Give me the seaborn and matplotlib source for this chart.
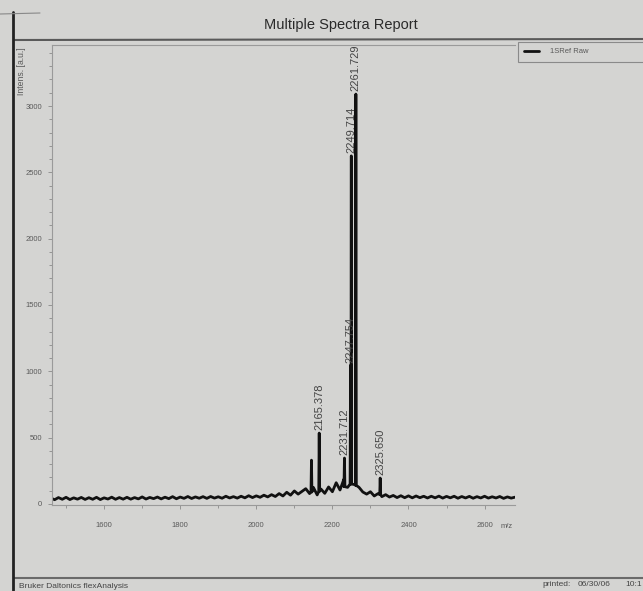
import numpy as np
import pandas as pd
import seaborn as sns
import matplotlib.pyplot as plt
from matplotlib.lines import Line2D
from matplotlib.ticker import MultipleLocator

# baseline trace, one value every 10 Da from 1460 to 2680
base_mz = np.arange(1460, 2690, 10)
base_int = [
    44, 32, 48, 35, 50, 33, 46, 36, 49, 34,
    47, 35, 50, 33, 46, 37, 51, 35, 48, 36,
    50, 36, 48, 38, 53, 37, 49, 40, 52, 38,
    51, 40, 55, 39, 52, 42, 56, 41, 53, 43,
    55, 42, 56, 44, 54, 43, 58, 45, 55, 44,
    58, 46, 62, 48, 61, 50, 66, 53, 70, 56,
    78, 60, 88, 66, 98, 74, 95, 115, 78, 125,
    68, 112, 80, 128, 92, 160, 105, 185, 125, 170,
    145, 125, 90, 74, 92, 60, 78, 55, 70, 52,
    64, 48, 62, 47, 61, 46, 60, 47, 58, 45,
    58, 46, 59, 44, 57, 46, 58, 43, 56, 45,
    57, 43, 55, 45, 58, 44, 54, 45, 56, 42,
    53, 44, 51,
]

# peaks
peak_mz = [2145.0, 2165.378, 2231.712, 2247.754, 2249.714, 2261.729, 2325.650]
peak_int = [330, 534, 346, 1045, 2624, 3090, 195]
peak_foot = [90, 95, 130, 150, 150, 140, 70]
peak_label = [None, "2165.378", "2231.712", "2247.754", "2249.714", "2261.729", "2325.650"]

mz = list(base_mz)
inten = list(base_int)
for m, h, f in zip(peak_mz, peak_int, peak_foot):
    mz += [m - 1.2, m, m + 1.2]
    inten += [f, h, f]
df = pd.DataFrame({"mz": mz, "intens": inten}).sort_values("mz")

bg = "#d4d4d2"
sns.set_theme(style="ticks")
plt.rcParams["font.family"] = ["Liberation Sans", "DejaVu Sans"]

fig = plt.figure(figsize=(6.43, 5.91), dpi=100, facecolor=bg)
ax = fig.add_axes([52 / 643, 1 - 505 / 591, (515 - 52) / 643, (505 - 45) / 591])
ax.set_facecolor(bg)

sns.lineplot(data=df, x="mz", y="intens", estimator=None, sort=True,
             color="#111111", linewidth=2.0, ax=ax, label="1SRef Raw")

for m, h, lab in zip(peak_mz, peak_int, peak_label):
    if lab:
        ax.annotate(lab, (m, h), xytext=(0, 2), textcoords="offset points",
                    rotation=90, ha="center", va="bottom", fontsize=8,
                    color="#444444", annotation_clip=False, clip_on=False)

ax.set_xlim(1463, 2680)
ax.set_ylim(-8, 3460)
ax.xaxis.set_major_locator(MultipleLocator(200))
ax.xaxis.set_minor_locator(MultipleLocator(100))
ax.yaxis.set_major_locator(MultipleLocator(500))
ax.yaxis.set_minor_locator(MultipleLocator(100))
ax.tick_params(which="both", direction="out", colors="#8a8a8a", labelcolor="#5a5a5a",
               labelsize=5.5, width=0.6)
ax.tick_params(which="major", length=3)
ax.tick_params(which="minor", length=2)
ax.tick_params(axis="x", pad=9)
ax.tick_params(axis="y", pad=4)
ax.set_xlabel("")
ax.set_ylabel("")
ax.spines["right"].set_visible(False)
for s in ["left", "bottom", "top"]:
    ax.spines[s].set_color("#9a9a9a")
    ax.spines[s].set_linewidth(0.8)

ax.text(1.0 - 14 / 463, -22 / 460, "m/z", transform=ax.transAxes, fontsize=5.5,
        color="#5a5a5a", ha="left", va="center")
fig.text(22 / 643, 1 - 47 / 591, "Intens. [a.u.]", rotation=90, fontsize=6.2,
         color="#5a5a5a", ha="center", va="top")

leg = ax.legend(loc="upper left", bbox_to_anchor=(518 / 643, 1 - 42 / 591, 0.3, 0.0),
                bbox_transform=fig.transFigure, mode="expand", frameon=True,
                borderaxespad=0, fancybox=False, edgecolor="#8a8a8a", facecolor=bg,
                framealpha=1, fontsize=5.5, handlelength=2.0, borderpad=0.8,
                handletextpad=1.4)
leg.get_frame().set_linewidth(0.8)
for t in leg.get_texts():
    t.set_color("#5a5a5a")
for l in leg.get_lines():
    l.set_linewidth(2.0)

# page decoration of the printed report
fig.text(341 / 643, 1 - 25 / 591, "Multiple Spectra Report", fontsize=10.5,
         color="#2a2a2a", ha="center", va="center")
fig.add_artist(Line2D([14 / 643, 1], [1 - 40 / 591, 1 - 39 / 591], color="#5a5a5a", lw=1.5))
fig.add_artist(Line2D([14 / 643, 1], [1 - 578 / 591, 1 - 578 / 591], color="#6a6a6a", lw=1.5))
fig.add_artist(Line2D([13 / 643, 13 / 643], [0, 1 - 12 / 591], color="#222222", lw=2))
fig.add_artist(Line2D([0, 40 / 643], [1 - 14 / 591, 1 - 13 / 591], color="#888888", lw=0.8))
fig.text(19 / 643, 1 - 586 / 591, "Bruker Daltonics flexAnalysis", fontsize=6,
         color="#444444", ha="left", va="center")
fig.text(542 / 643, 1 - 585 / 591, "printed:", fontsize=6, color="#444444", ha="left", va="center")
fig.text(578 / 643, 1 - 585 / 591, "06/30/06", fontsize=6, color="#444444", ha="left", va="center")
fig.text(625 / 643, 1 - 585 / 591, "10:1", fontsize=6, color="#444444", ha="left", va="center")

fig.savefig("out.png", dpi=100, facecolor=bg)
